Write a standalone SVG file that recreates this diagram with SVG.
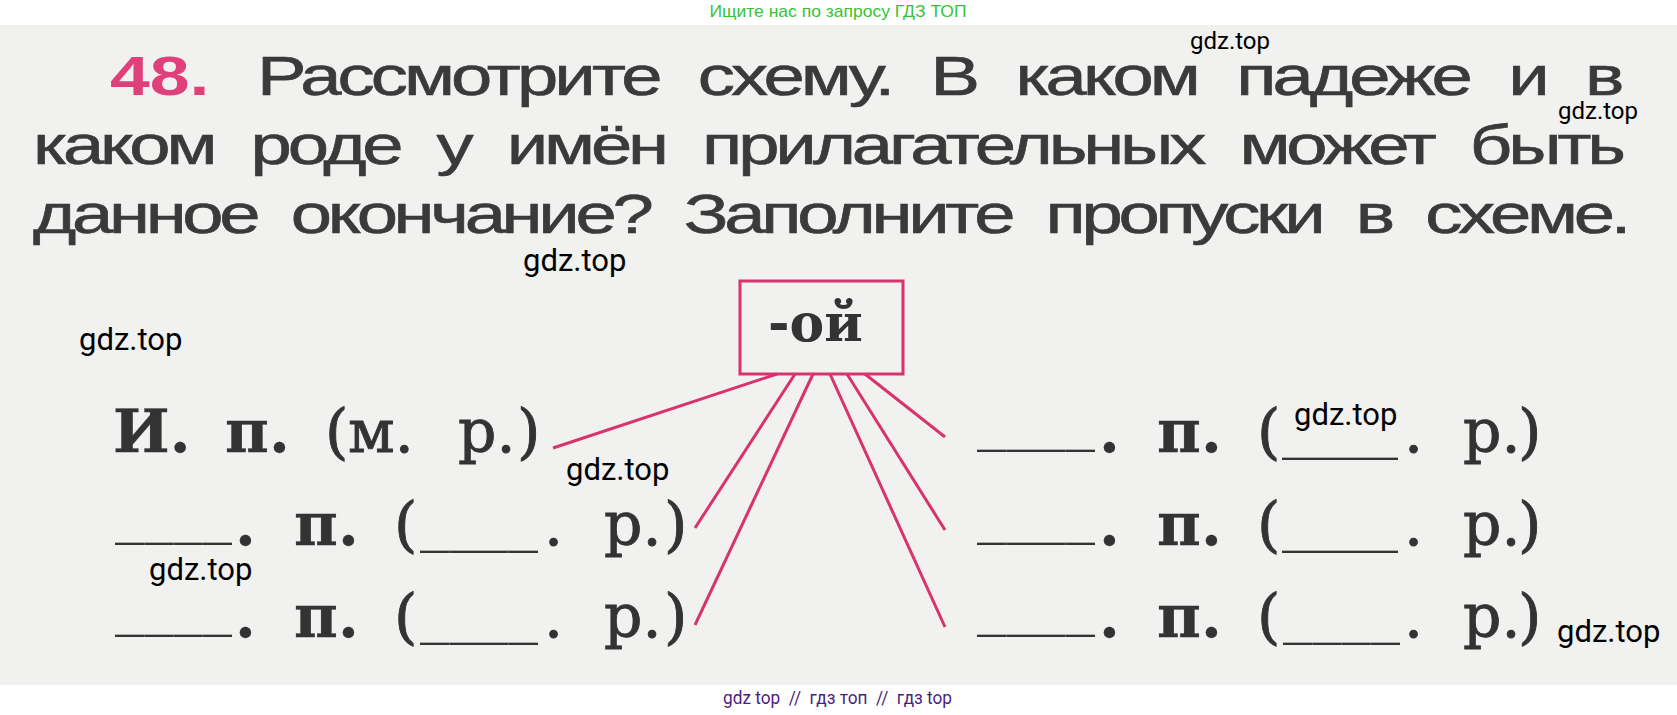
<svg xmlns="http://www.w3.org/2000/svg" width="1677" height="715" viewBox="0 0 1677 715">
<style>
.hd{font-family:"Liberation Sans",Arial,sans-serif;font-size:55px;fill:#3a3a3a;stroke:#3a3a3a;stroke-width:0.6px}
.num{font-family:"Liberation Sans",Arial,sans-serif;font-size:55px;font-weight:bold;fill:#e0407a}
.wm{font-family:Roboto,"Liberation Sans",sans-serif;fill:#000}
.lb{font-family:"DejaVu Serif",serif;font-size:60px;fill:#333;stroke:#333;stroke-width:0.9px}
.b{font-weight:bold;stroke-width:0.3px}
.us{font-family:"DejaVu Serif",serif;font-size:60px;fill:#333}
.box{fill:none;stroke:#d8336e;stroke-width:3}
.con{stroke:#d8336e;stroke-width:3;fill:none}
</style>
<rect x="0" y="0" width="1677" height="715" fill="#ffffff"/>
<rect x="0" y="25" width="1677" height="660" fill="#f1f1f0"/>
<text x="838" y="17" text-anchor="middle" textLength="257" lengthAdjust="spacingAndGlyphs" font-family="Liberation Sans, Arial, sans-serif" font-size="17" fill="#36c436">Ищите нас по запросу ГДЗ ТОП</text>
<g id="heading">
<text class="num" transform="translate(110,95) scale(1.3,1)" x="0" y="0">48.</text>
<text class="hd" transform="translate(257,95) scale(1.35,1)" x="0" y="0" word-spacing="16.7" textLength="1013" lengthAdjust="spacing">Рассмотрите схему. В каком падеже и в</text>
<text class="hd" transform="translate(33,164) scale(1.35,1)" x="0" y="0" word-spacing="15.3" textLength="1180" lengthAdjust="spacing">каком роде у имён прилагательных может быть</text>
<text class="hd" transform="translate(33,233) scale(1.35,1)" x="0" y="0" word-spacing="13.4" textLength="1184" lengthAdjust="spacing">данное окончание? Заполните пропуски в схеме.</text>
</g>
<g id="connectors">
<line class="con" x1="777" y1="374" x2="553" y2="448"/>
<line class="con" x1="795" y1="374" x2="695" y2="528"/>
<line class="con" x1="813" y1="374" x2="695" y2="625"/>
<line class="con" x1="830" y1="374" x2="945" y2="627"/>
<line class="con" x1="847" y1="374" x2="945" y2="530"/>
<line class="con" x1="865" y1="374" x2="945" y2="437"/>
</g>
<g id="node-oi">
<rect class="box" x="740" y="281" width="163" height="93"/>
<text x="768" y="341" font-family="DejaVu Serif, serif" font-size="52" font-weight="bold" fill="#333">-ой</text>
</g>
<g id="node-l1">
<text class="lb" y="452"><tspan class="b" x="113">И.</tspan><tspan class="b" x="225">п.</tspan><tspan x="325">(</tspan><tspan x="348">м.</tspan><tspan x="458">р.</tspan><tspan x="517">)</tspan></text>
</g>
<g id="node-l2">
<text class="us" x="115" y="531" textLength="117" lengthAdjust="spacingAndGlyphs">____</text>
<text class="us" x="420" y="539" textLength="118" lengthAdjust="spacingAndGlyphs">____</text>
<text class="lb" y="545"><tspan class="b" x="235">.</tspan><tspan class="b" x="294">п.</tspan><tspan x="394">(</tspan><tspan x="544">.</tspan><tspan x="604">р.</tspan><tspan x="664">)</tspan></text>
</g>
<g id="node-l3">
<text class="us" x="115" y="623" textLength="117" lengthAdjust="spacingAndGlyphs">____</text>
<text class="us" x="420" y="631" textLength="118" lengthAdjust="spacingAndGlyphs">____</text>
<text class="lb" y="637"><tspan class="b" x="235">.</tspan><tspan class="b" x="294">п.</tspan><tspan x="394">(</tspan><tspan x="544">.</tspan><tspan x="604">р.</tspan><tspan x="664">)</tspan></text>
</g>
<g id="node-r1">
<text class="us" x="977" y="438" textLength="118" lengthAdjust="spacingAndGlyphs">____</text>
<text class="us" x="1282" y="446" textLength="116" lengthAdjust="spacingAndGlyphs">____</text>
<text class="lb" y="452"><tspan class="b" x="1099">.</tspan><tspan class="b" x="1157">п.</tspan><tspan x="1257">(</tspan><tspan x="1404">.</tspan><tspan x="1463">р.</tspan><tspan x="1518">)</tspan></text>
</g>
<g id="node-r2">
<text class="us" x="977" y="531" textLength="118" lengthAdjust="spacingAndGlyphs">____</text>
<text class="us" x="1282" y="539" textLength="116" lengthAdjust="spacingAndGlyphs">____</text>
<text class="lb" y="545"><tspan class="b" x="1099">.</tspan><tspan class="b" x="1157">п.</tspan><tspan x="1257">(</tspan><tspan x="1404">.</tspan><tspan x="1463">р.</tspan><tspan x="1518">)</tspan></text>
</g>
<g id="node-r3">
<text class="us" x="977" y="623" textLength="118" lengthAdjust="spacingAndGlyphs">____</text>
<text class="us" x="1283" y="631" textLength="117" lengthAdjust="spacingAndGlyphs">____</text>
<text class="lb" y="637"><tspan class="b" x="1099">.</tspan><tspan class="b" x="1157">п.</tspan><tspan x="1257">(</tspan><tspan x="1404">.</tspan><tspan x="1463">р.</tspan><tspan x="1518">)</tspan></text>
</g>
<g id="watermarks">
<text class="wm" x="1190" y="49" font-size="24">gdz.top</text>
<text class="wm" x="1558" y="119" font-size="24">gdz.top</text>
<text class="wm" x="523" y="271" font-size="31">gdz.top</text>
<text class="wm" x="79" y="350" font-size="31">gdz.top</text>
<text class="wm" x="566" y="480" font-size="31">gdz.top</text>
<text class="wm" x="149" y="580" font-size="31">gdz.top</text>
<text class="wm" x="1294" y="425" font-size="31">gdz.top</text>
<text class="wm" x="1557" y="642" font-size="31">gdz.top</text>
<text x="723" y="704" xml:space="preserve" textLength="229" lengthAdjust="spacingAndGlyphs" font-family="Roboto, sans-serif" font-size="18" fill="#4b1f80">gdz top  //  гдз топ  //  гдз top</text>
</g>
</svg>
